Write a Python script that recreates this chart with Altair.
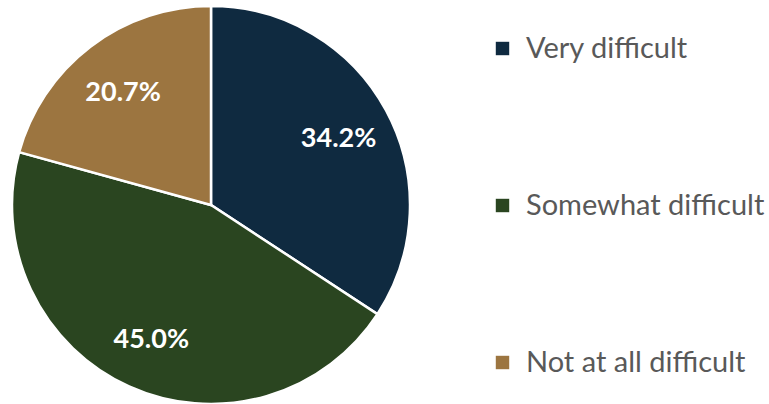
import altair as alt
import pandas as pd

categories = ["Very difficult", "Somewhat difficult", "Not at all difficult"]
values = [34.2, 45.0, 20.7]
labels = ["34.2%", "45.0%", "20.7%"]
colors = ["#0f2a40", "#2a4520", "#9c7540"]

df = pd.DataFrame({"category": categories, "value": values, "label": labels,
                   "order": list(range(len(categories)))})

base = alt.Chart(df).encode(
    theta=alt.Theta("value:Q", stack=True),
    order=alt.Order("order:Q"),
)

pie = base.mark_arc(stroke="white", strokeWidth=2.5, radius=199, x=211, y=205).encode(
    color=alt.Color("category:N",
                    scale=alt.Scale(domain=categories, range=colors),
                    sort=categories,
                    legend=alt.Legend(title=None, orient="none", legendX=488, legendY=34,
                                      padding=0,
                                      symbolType="square", symbolSize=180,
                                      symbolStrokeWidth=0,
                                      labelFont="Lato", labelFontSize=29,
                                      labelColor="#595959", rowPadding=127,
                                      labelOffset=9, labelLimit=300)),
)

text = base.mark_text(radius=145, x=211, y=208, font="Lato", fontSize=27,
                      fontWeight="bold", color="white").encode(text="label:N")

chart = (pie + text).properties(
    width=769, height=404, padding=0, autosize=alt.AutoSizeParams(type="none")
).configure_view(stroke=None)

chart.save("out.html", embed_options={"renderer": "svg", "actions": False})
